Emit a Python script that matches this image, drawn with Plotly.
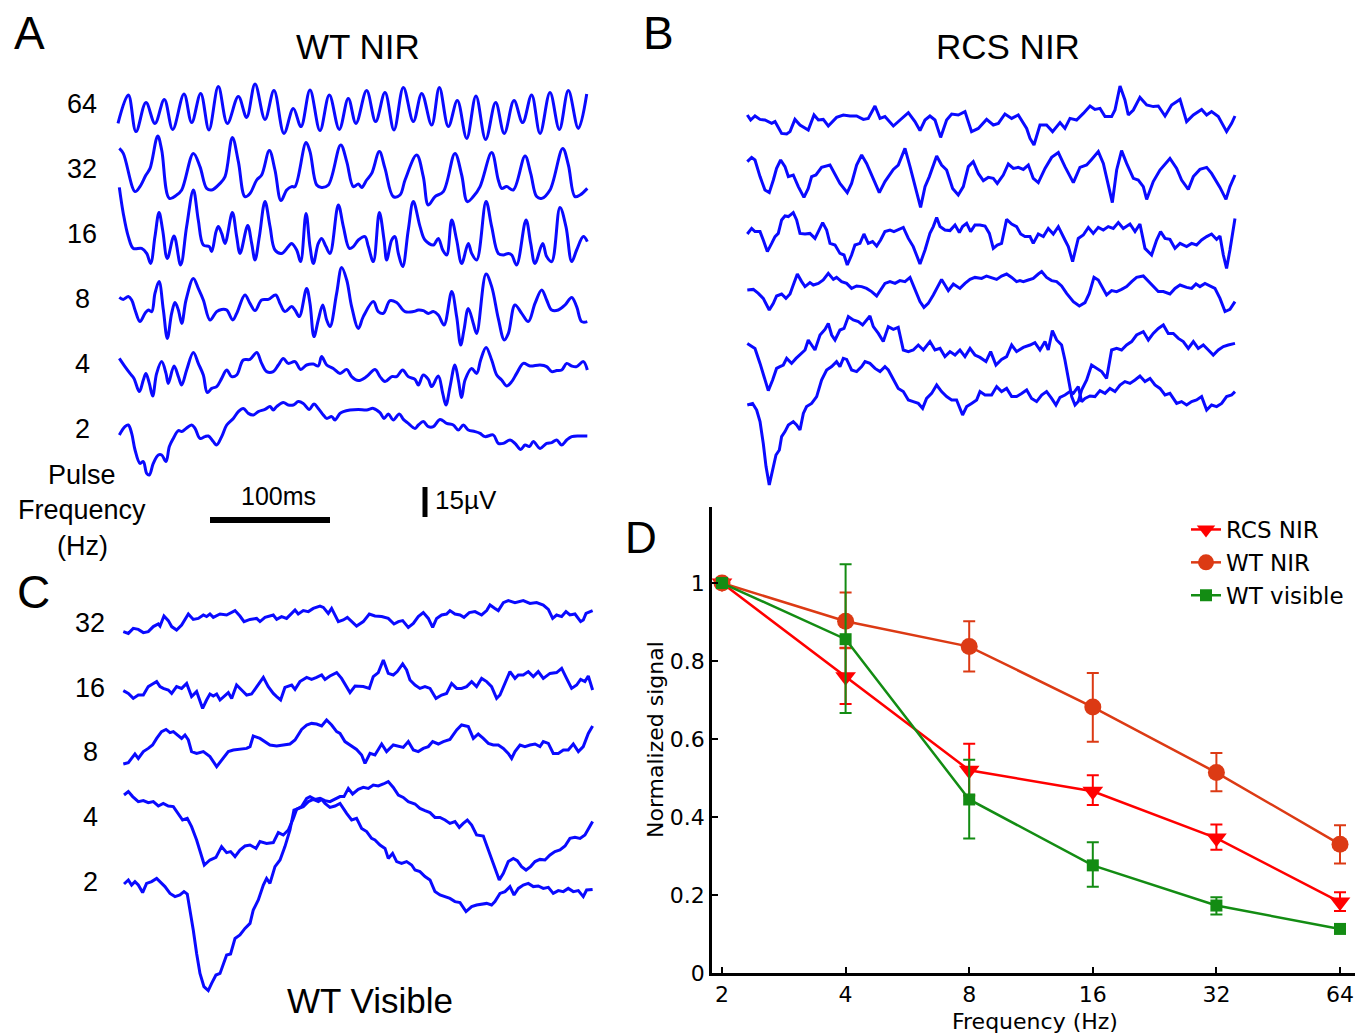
import math
import plotly.graph_objects as go

W, H = 1369, 1034

# ---------------- Panel A: WT NIR, traces as (time ms, signal uV) ----------------
A64 = [(0,-9.7),(8.6,4.5),(15,-13.8),(23.3,0.7),(30.8,-9.7),(38.6,2.3),(45.6,-12.7),(55,5),(61.4,-9.3),(68.9,5.3),
       (75.8,-13),(83.6,8.7),(91.1,-9.7),(100.3,3.7),(107.2,-6.7),(114.2,10),(122.5,-7.7),(130,6.7),(138.3,-14.7),(146.1,-2.2),
       (152.5,-11.3),(160,7),(168.3,-13.3),(176.1,4.5),(184.4,-12.7),(191.9,2.8),(198.3,-9.7),(207.2,6.7),(214.7,-8.8),(222.5,5.7),
       (230,-13),(237.8,8.3),(246.1,-8.8),(253.1,5.3),(261.4,-10.5),(267.8,8.3),(275.3,-11.3),(282.8,1.7),(290.6,-17.2),(298.3,4),
       (306.4,-17.7),(314.7,0.7),(321.9,-14.7),(330,1.7),(337.2,-9.3),(344.7,4.5),(351.7,-14.7),(360,5.7),(367.8,-12.7),(375.3,6.7),
       (383.6,-12.2),(390.6,5)]
A32 = [(1.1,10.3),(4.4,7.8),(14.2,-11.3),(18.3,-8.8),(23.3,-3),(26.7,0.3),(33.1,16.5),(36.4,9.5),(42.8,-14.7),(48.9,-13),
       (53.1,-10.5),(62.8,7.8),(68.3,1.2),(73.9,-9.7),(78.1,-10.5),(85,-7.2),(89.2,-3.8),(95.3,15.8),(100.3,3.7),(105.8,-13.8),
       (110,-12.2),(115.6,-5.5),(119.7,-3),(126.1,9.2),(130.8,-0.5),(135.8,-15.8),(140.6,-10.5),(144.7,-8.8),(147.5,-8.8),(156.7,13.2),
       (160,8.7),(165.6,-8),(169.7,-9.2),(175.3,-8),(185.6,12),(190.6,3.7),(196.1,-8.8),(200.3,-7.5),(203.1,-9.2),(207.2,-5.5),
       (211.4,-2.2),(217.8,8.7),(222.5,0.3),(229.4,-13.8),(235,-13),(239.2,-5.5),(248.9,7),(254.4,-3.8),(258.6,-18),(264.2,-13.8),
       (271.1,-11.3),(280.8,7.8),(286.4,-3),(291.1,-16.3),(296.1,-13.8),(301.7,-8.8),(311.4,8.2),(316.9,-5.5),(319.7,-9.7),(323.9,-8.8),
       (329.4,-10.5),(339.2,6.5),(343.9,-2.2),(348.9,-13.8),(353.1,-14.7),(360,-10.5),(370.6,10.3),(375.3,2),(380.8,-13.8),(385,-13),
       (391.1,-9.7)]
A16 = [(1.1,23.3),(4.4,10.3),(8.6,-1.3),(12.8,-7.2),(19.7,-7.2),(23.9,-9.7),(27.2,-14.7),(30.8,-1.3),(34.2,10.7),(37.2,2),
       (41.1,-12.2),(46.7,-1),(52.2,-15.5),(57.2,3.7),(62.8,22),(66.9,7),(71.1,-5.5),(76.1,-6.3),(78.1,-8.8),(81.7,1.2),
       (83.6,3.7),(86.4,0.3),(89.2,-4.7),(95.3,10.7),(98.9,-1.3),(101.7,-9.7),(108.1,4.2),(111.4,-4.7),(114.2,-13),(117.8,-1.3),
       (122.5,16.2),(126.7,3.7),(130.8,-8),(136.4,-9.7),(141.9,-6.3),(144.7,-4.7),(148.9,-8),(152.2,-13.8),(156.7,10.3),(160,-6.3),
       (162.8,-14.7),(166.9,-4.7),(169.7,-2.2),(173.3,-6.3),(176.7,-9.7),(183.6,14.5),(187.8,3.7),(192.8,-7.2),(196.1,-6.3),(200.3,-3),
       (205.8,-1.3),(208.6,-6.3),(212.8,-13.8),(217.8,10.7),(221.7,-3),(223.9,-13),(228.1,-3),(230.8,-1.3),(233.6,-9.7),(237.2,-16.3),
       (241.9,2),(246.1,16.2),(251.7,3.7),(255.8,-3),(262.8,-5.5),(266.9,-2.2),(270.6,-8),(273.9,-10.5),(278.1,7),(282.2,-3),
       (286.4,-14.7),(291.9,-4.7),(294.7,-9.7),(298.9,-13),(306.7,16.2),(311.4,3.7),(316.9,-9.7),(321.1,-10.5),(325.3,-9.7),(328.1,-10.5),
       (332.2,-15.5),(340,7),(343.9,-4.7),(347.5,-14.7),(353.9,-4.7),(357.2,-11.3),(361.4,-13.8),(368.3,13.3),(373.3,3.7),(378.1,-13.8),
       (382.2,-8),(387.8,-1.3),(391.1,-3.8)]
A8 = [(1.1,0.8),(4.4,-0.2),(8.6,1.2),(11.4,-0.5),(14.2,-5.5),(18.3,-11.3),(22.5,-7.2),(25.3,-5.5),(28.1,-6.3),(30.8,2.8),
      (34.2,8.7),(37.8,-5.5),(41.1,-19.7),(44.7,-7.2),(47.5,-1.8),(50.3,-5.5),(53.1,-12.2),(56.7,-0.5),(62.8,10.3),(66.9,5.3),
      (71.1,-0.5),(76.7,-10.5),(82.2,-6.3),(86.4,-5.2),(90.6,-5.5),(95.6,-10.5),(98.9,-7.2),(105.8,2),(110,-2.2),(114.2,-5.8),
      (119.7,-0.5),(125.3,-0.2),(131.4,2),(135,-2.2),(139.2,-6.3),(144.7,-3.8),(147.5,-5.5),(151.1,-8.8),(157.2,5.3),(160,-2.2),
      (163.3,-18.8),(166.9,-10.5),(170.6,-3),(173.9,-10.5),(176.7,-13.8),(182.2,2.8),(186.4,15.8),(190.6,9.5),(194.7,-3.8),(200.3,-14.7),
      (204.4,-8.8),(212.8,-1.3),(216.9,-6.3),(221.1,-7.2),(226.7,-0.8),(232.2,-1.8),(239.2,-6.3),(246.1,-6.3),(250.3,-5.5),(254.4,-5.8),
      (258.6,-7.2),(262.8,-6.3),(266.9,-8),(271.7,-13),(278.1,3.7),(282.2,-8.8),(285.6,-23),(288.3,-15.5),(291.9,-4.7),(296.1,-12.2),
      (298.9,-17.2),(306.7,12.5),(311.4,6.2),(316.9,-9.7),(321.9,-20.5),(325.3,-17.2),(330.8,-3),(336.4,-7.2),(341.9,-11.3),(347.5,-2.2),
      (353.1,4.5),(357.2,-0.5),(361.4,-5.5),(366.9,-5.5),(372.5,-3),(378.1,0.8),(382.2,-3.8),(386.4,-11.3),(391.1,-11.3)]
A4 = [(1.1,2.8),(5.8,-1.3),(10,-4.7),(13.3,-7.2),(17.8,-13.8),(21.1,-8),(23.3,-4.7),(26.1,-9.7),(28.9,-16),(32.2,-4.7),
      (36.4,1.2),(40,-4.7),(41.9,-9.7),(46.7,-1),(50.3,-6.3),(53.1,-10.5),(57.2,-3),(62.8,5.7),(66.9,0.3),(71.1,-5.5),
      (74.4,-14.3),(78.1,-12.2),(82.2,-11.3),(86.4,-7.2),(90.6,-3),(94.7,-6.3),(98.9,-5.5),(104.4,2),(110,2.3),(115.6,5.7),
      (119.7,0.3),(123.9,-3.8),(129.4,-3.8),(133.6,-0.5),(137.8,2.7),(141.9,0.3),(147.5,1.2),(152.2,-2.7),(157.2,-0.5),(162.8,0),
      (166.9,-1),(169.7,3.7),(173.9,-0.5),(179.4,-2.2),(185,-4.7),(190.6,-2.7),(194.7,-6.3),(200.3,-8.3),(207.2,-6.3),(214.2,-2.7),
      (218.3,-6.3),(222.5,-8.8),(228.1,-6.3),(232.2,-6.3),(237.2,-3),(241.9,-6.3),(247.5,-7.7),(250.3,-10.5),(254.4,-5.5),(258.6,-7.7),
      (261.4,-11.3),(266.9,-6),(270.6,-14.7),(273.3,-20.5),(276.7,-11.3),(280.8,-0.5),(283.6,-8),(286.4,-16.7),(289.2,-8),(294.7,-2.2),
      (298.9,-4.7),(302.2,2),(306.7,8.3),(311.4,2),(315.6,-5.5),(319.7,-8),(323.9,-11),(328.1,-8.8),(332.2,-4.7),(337.8,0.3),
      (343.3,-1),(351.7,-0.5),(357.2,-1.3),(361.4,-3.8),(365.6,-3.3),(369.7,-3),(373.9,0.3),(378.1,-1),(382.2,-1.3),(387.8,1.2),
      (391.1,-3)]
A2 = [(1.1,-3),(5.8,1.2),(8.6,2),(11.4,-2.2),(14.2,-10.5),(18.3,-17.2),(21.1,-16.3),(23.9,-22.2),(26.1,-23),(29.4,-17.2),
      (33.6,-13),(36.4,-13),(40,-16.3),(42.8,-8.8),(46.1,-4.7),(50.3,-0.8),(53.1,-1.3),(56.7,0.3),(61.4,2),(64.2,0.3),
      (68.3,-4.7),(72.5,-3.8),(75.3,-3.5),(79.4,-6.3),(82.2,-8),(86.4,-3.8),(90.6,2),(96.1,5.3),(100.3,8.7),(104.4,10.3),
      (108.6,7.8),(112.8,7),(116.9,8.7),(122.5,9.8),(126.7,11.2),(129.4,9.5),(132.2,11.2),(137.8,13.2),(141.9,12),(146.1,12),
      (150.3,13.7),(154.4,12.8),(159.4,9.8),(163.3,12.5),(166.9,10.3),(171.1,7),(173.9,5.3),(178.1,6.2),(180.8,4.5),(185,7.8),
      (187.8,8.7),(193.3,9.5),(200.3,9.8),(207.2,9.5),(212.8,10.3),(218.3,8.2),(221.7,5.3),(225.3,7.5),(229.4,4.5),(234.4,7.5),
      (237.8,4.8),(241.9,2.8),(247.5,0.3),(250.3,2),(254.4,3.7),(258.6,1.2),(262.8,1.2),(268.3,4.8),(273.9,2.8),(279.4,2),
      (283.6,-0.5),(287.8,2),(291.9,-0.5),(297.5,-1.3),(301.7,-2.2),(305.8,-3.8),(312.8,-3),(316.9,-7.2),(321.1,-7.2),(326.7,-5.5),
      (330.8,-7.2),(335.6,-10.2),(339.2,-8),(342.8,-8.8),(346.1,-6.3),(351.7,-9.7),(357.2,-7.2),(361.4,-6.8),(365.6,-5.5),(369.7,-8),
      (373.9,-5.5),(378.1,-3.8),(385,-3.5),(391.1,-3.5)]

# ---------------- Panel B: RCS NIR ----------------
B64 = [(0,1.5),(2.8,-1),(6.4,1),(10.6,-0.7),(14.7,-1),(20.3,-2.7),(23.1,-1.8),(28.6,-7.7),(32.8,-8),(35.6,-6.8),
       (39.7,-0.7),(43.9,-3.5),(50.8,-6),(55.6,1.5),(59.2,-1),(63.3,-0.7),(67.5,-4),(74.4,0.3),(80,1.5),(85.6,1),
       (91.1,1),(96.7,-0.7),(100.8,-0.2),(106.4,6),(110.6,-0.2),(114.7,0.7),(121.7,-4),(127.2,-1),(134.2,2.7),(139.7,-1.8),
       (143.9,-6.3),(148.1,-1),(152.2,1),(156.4,-1),(161.1,-9.7),(166.1,-1),(170.3,2),(175.8,1.5),(181.4,3.2),(186.9,-6.8),
       (192.5,-5.2),(199.4,-0.7),(205,-3.5),(209.2,-2.7),(214.7,2),(220.3,-0.2),(225.8,1.5),(232.8,-5.2),(235.6,-10.2),(238.9,-13.5),
       (243.9,-3.5),(249.4,-3.5),(254.4,-6.8),(260.6,-2.3),(264.7,-5.2),(268.9,-0.2),(274.4,-1),(280,2.3),(285.6,6),(289.7,4.3),
       (293.9,4.8),(298.1,0.7),(303.6,0.7),(306.4,4),(310.6,16),(314.7,9),(317.5,1.5),(321.7,4),(327.2,10.3),(332.8,6.5),
       (338.3,5.7),(342.5,6),(348.1,1),(353.6,6.5),(360.6,9.3),(366.1,-1.8),(371.7,1.5),(378.6,4.3),(382.8,1.5),(386.9,3.2),
       (392.5,0.7),(399.4,-6.8),(403.6,-2.7),(406.4,1)]
B32 = [(0,7.2),(3.6,9.3),(6.4,8),(10.6,-0.3),(14.7,-7),(18.3,-8.3),(21.7,-2),(24.4,3.8),(27.8,8),(31.4,4.7),
       (34.2,-0.3),(38.3,0.5),(42.5,-5.3),(47.2,-10.7),(50.8,-6.2),(53.6,-0.3),(57.2,0.5),(61.9,4.3),(68.9,5.5),(71.7,2.2),
       (77.2,-3.7),(83.3,-8.3),(86.9,-3.7),(91.1,5.5),(95.3,10.5),(99.4,6.3),(105,-1.2),(110,-8.3),(114.7,-2.8),(121.7,3.3),
       (125.8,5.5),(131.4,13.8),(135.6,4.7),(141.1,-8.7),(144.4,-15.7),(148.1,-5.3),(151.7,-0.3),(157.8,10),(161.9,5.5),(166.1,3),
       (171.1,-6.2),(175.8,-9.5),(180,-5.3),(184.2,4.7),(188.3,7.2),(192.5,1.3),(196.7,-2.3),(200.8,-0.7),(205,-1.2),(208.3,-3.7),
       (213.3,0.5),(217.5,6),(221.7,3.8),(225.8,4.3),(230,3.3),(234.2,5.5),(238.3,-1.2),(242.5,-3.3),(248.1,3.8),(253.6,9.3),
       (259.2,11.7),(264.7,4.7),(271.7,-3.3),(277.2,4.3),(282.8,5.5),(286.9,8.3),(292.5,12.2),(296.7,6.3),(300.8,-5.3),(304.2,-13.3),
       (307.8,3),(311.9,12.7),(316.1,6.3),(321.7,-1.2),(325.8,-2),(330,-5.3),(332.8,-11.7),(338.3,-2.8),(343.9,3),(352.2,8.8),
       (357.8,3.8),(361.9,-2),(367.5,-6.7),(371.7,-0.3),(377.2,3.3),(382.8,4.3),(386.9,1.3),(393.9,-5.7),(398.9,-11.7),(402.2,-5.3),
       (406.4,0.5)]
B16 = [(0,0),(3.6,2.8),(6.4,1.2),(10.6,1.2),(13.3,-3),(16.7,-8.8),(20.3,-4.7),(23.1,-1.3),(25.8,0.3),(28.6,7),
       (31.4,9),(34.2,8.7),(38.3,10.7),(41.1,7),(43.9,0.3),(48.1,0),(52.2,0.3),(56.4,-2.2),(59.2,1.2),(62.8,5.7),
       (66.1,2),(68.9,-4.7),(73.1,-5.5),(77.2,-9.7),(80.6,-10.5),(83.3,-15.5),(86.9,-10.5),(89.7,-5.5),(93.9,-4.7),(97.2,0),
       (100.8,-4.7),(104.4,-3.8),(107.8,-6),(111.1,-3),(114.7,1.2),(118.9,2),(122.2,1.2),(125.8,2),(130,3.3),(134.2,-2.2),
       (138.3,-6.3),(143.9,-15),(148.1,-8),(152.2,0.3),(155,3.7),(157.8,8.3),(160.6,3.7),(164.7,2),(168.9,1.7),(173.1,4.5),
       (176.7,0.7),(179.4,3.7),(182.8,5.3),(186.1,1.2),(189.7,4.5),(193.9,4.5),(198.1,4),(201.7,0.3),(205,-7.2),(208.3,-5.5),
       (211.9,-4.7),(216.1,7.3),(220.3,5),(224.4,3.7),(227.8,0),(231.4,-1.3),(235.6,-1.3),(238.3,-4.7),(242.5,0),(246.7,-1.3),
       (250.8,2.8),(255,0),(259.2,3.7),(264.7,-3),(267.5,-6.3),(271.1,-13.8),(275.8,-2.2),(280,-0.5),(284.2,3.3),(288.3,0.3),
       (292.5,3.3),(296.7,2),(300.8,3.7),(305,2.8),(309.2,5.7),(313.3,2.8),(318.9,5),(323.1,1.2),(327.2,5),(331.4,-7.2),
       (336.9,-10.5),(341.1,-3),(344.4,1.2),(348.1,-2.2),(352.2,-2.7),(356.4,-7.2),(360.6,-4.7),(366.1,-6.3),(370.3,-4.7),(374.4,-5.5),
       (378.6,-3),(382.8,-1.3),(386.9,0),(391.1,-2.7),(393.9,-1),(396.7,-10.5),(399.4,-17.2),(402.2,-8),(406.4,7.8)]
B8 = [(0,1),(5,1.3),(9.2,-0.7),(13.3,-3.2),(18.3,-9),(21.7,-5.7),(24.4,-2),(28.6,-1),(32.2,-3.2),(35.6,-1),
      (38.3,3.5),(41.7,9),(45.3,5.2),(48.1,2.7),(52.2,4.7),(55,3.5),(59.2,4.3),(63.3,6),(67.5,9.3),(71.7,6.3),
      (74.4,7.3),(78.6,5.2),(82.8,4.3),(86.9,1.8),(91.1,3),(95.3,2.7),(99.4,1.8),(103.6,0.2),(107.8,-2),(111.9,1.8),
      (114.7,4.3),(118.9,5.2),(123.1,4.3),(127.2,5.7),(131.4,5.2),(135.6,7.3),(139.7,1),(143.9,-4.8),(147.2,-7.7),(150.8,-5.7),
      (155,-1.5),(159.2,3.5),(161.9,6.3),(164.7,3.5),(167.5,0.7),(171.7,4),(177.2,1.8),(181.4,4.3),(185.6,6.3),(189.7,7.3),
      (195.3,6.8),(199.4,8),(203.6,7.3),(207.8,6.3),(211.9,8),(216.1,9),(220.3,7.3),(224.4,5.2),(227.2,5.7),(230,5.2),
      (234.2,6),(238.3,6.8),(242.5,9),(245.3,10.2),(249.4,7.3),(253.6,5.7),(257.8,5.2),(261.9,3),(266.1,-0.7),(271.7,-4.8),
      (276.7,-7),(281.4,-5.3),(285,-0.7),(288.9,7.3),(292.5,6),(295.3,2.7),(299.4,-1.5),(303.6,0.7),(307.8,0.2),(311.9,1.3),
      (316.1,2.7),(320.3,5.2),(324.4,7.3),(330,8),(334.2,5.2),(338.3,2.7),(342.5,0.2),(346.7,0.2),(352.2,-1),(356.4,1.8),
      (360.6,3.5),(366.1,2.3),(370.3,1.8),(373.9,4),(377.2,2.7),(381.4,4.3),(385.6,3),(389.7,1.8),(393.9,-3.2),(398.1,-9.8),
      (402.2,-8.7),(406.4,-4.8)]
B4 = [(0,3.3),(3.6,1.7),(6.4,0.8),(10.6,-6.7),(14.7,-15),(17.5,-20.3),(21.1,-15),(24.4,-9.2),(27.2,-8.3),(30,-7.5),
      (32.8,-4.2),(36.9,-6.7),(40.6,-4.2),(43.9,-2.5),(48.1,0),(50.8,5),(53.6,2.5),(56.4,0),(60.6,7.5),(64.7,10.3),
      (67.5,13.3),(70.3,7.5),(73.1,5),(77.2,10),(80.6,10.8),(84.2,16.7),(88.3,15),(92.5,14.2),(96.1,12.5),(99.4,15),
      (102.2,17),(105,11.7),(109.2,8.3),(113.3,4.2),(117.5,11.7),(121.7,10.3),(125.8,11.3),(130,0),(134.2,-0.8),(138.3,0),
      (142.5,2.5),(146.7,0),(152.2,4.2),(156.4,0),(160.6,0.8),(164.7,-3.3),(168.9,-0.8),(173.1,-2.5),(177.2,0),(181.4,-3.3),
      (185.6,0.8),(189.7,-2.5),(193.9,-3.7),(198.9,-5.8),(202.8,-0.8),(207.2,-7.5),(211.9,-4.7),(216.1,-3.3),(220.3,2.5),(224.4,-0.8),
      (230,1.3),(235.6,2.5),(239.7,3.7),(243.9,0),(248.1,4.2),(250.8,0),(254.2,9.7),(257.8,5),(261.9,2.5),(264.7,-5),
      (267.5,-13.3),(270.3,-23.3),(273.1,-27.5),(275.8,-25.8),(278.6,-20),(282.8,-15),(286.9,-7.5),(291.1,-9.2),(295.3,-10.8),(299.4,-14.2),
      (303.6,0),(307.8,0.8),(311.9,0),(316.1,2.5),(320.3,4.2),(324.4,7.5),(330,9.2),(334.2,5),(338.3,8.3),(342.5,10.8),
      (346.7,12.5),(350.8,8.3),(355,8.3),(359.2,5.8),(363.3,4.2),(367.5,0.8),(371.7,4.2),(375.8,0.8),(380,2.5),(384.2,0),
      (388.3,-2.5),(392.5,0),(396.7,1.7),(400.8,2.5),(406.4,3.3)]
B2 = [(0,1.5),(4.4,2.3),(7.8,-1),(10.6,-6.8),(13.3,-17.7),(15.6,-29.3),(18.3,-38.5),(21.1,-31),(23.9,-23.5),(26.7,-21),
      (28.6,-14.3),(31.4,-11.8),(34.2,-8.5),(38.3,-6.8),(41.1,-8.5),(43.9,-11),(46.7,-2.7),(49.4,0.7),(53.6,2.3),(57.8,5.7),
      (61.9,14),(66.1,19),(70.3,20.7),(74.4,23.2),(77.2,20.7),(80,24.8),(82.8,24.3),(86.9,19),(91.1,18.2),(95.3,20.7),
      (98.1,23.2),(102.2,22.3),(106.4,19.8),(110.6,18.2),(114.7,20.7),(117.5,19),(121.7,14),(125.8,9.8),(130,8.2),(134.2,4),
      (138.3,3.2),(142.5,2.3),(146.1,-0.2),(149.4,4.8),(153.6,7.3),(157.8,11.5),(161.9,8.2),(166.1,5.7),(170.3,4),(174.4,4),
      (179.4,-3.5),(182.8,0.7),(186.9,2.3),(191.1,4),(193.9,8.2),(198.1,6.5),(203.6,6.5),(207.8,10.7),(211.9,8.2),(216.1,9.8),
      (220.3,5.7),(224.4,5.7),(228.6,7.3),(232.8,9),(236.9,4.8),(241.1,3.2),(245.3,6.5),(249.4,8.2),(253.6,4.8),(257.2,1.5),
      (260.6,5.3),(264.7,6.5),(268.9,8.2),(271.7,7.3),(275.8,10.7),(278.6,3.2),(281.4,4.8),(285.6,6),(289.7,5.7),(293.9,8.7),
      (298.1,7.3),(302.2,9.8),(306.4,8.2),(310.6,11.5),(314.7,13.2),(318.9,12.3),(323.1,14),(327.2,16),(331.4,13.2),(335.6,14.8),
      (339.7,11.5),(343.9,9.8),(348.1,6.5),(352.2,7.3),(357.8,2.3),(361.9,3.2),(366.1,1.5),(370.3,3.2),(374.4,4),(378.6,5.7),
      (382.8,-1),(386.9,1.5),(391.1,0.7),(395.3,2.3),(399.4,5.7),(403.6,6.5),(406.4,8.2)]

# ---------------- Panel C: WT Visible ----------------
C32 = [(0,-4.3),(4.2,-5.2),(8.3,-2.7),(12.5,-3.2),(16.7,-4.8),(20.8,-4.3),(25,-1.8),(29.2,-0.5),(30.6,-1.5),(33.9,3.5),
       (37.5,1.2),(40.3,-1.8),(44.4,-3.5),(48.6,-1),(54.2,4.5),(58.3,1.8),(62.5,2.3),(66.7,4),(69.4,3.2),(72.2,4.5),
       (75,2.8),(80.6,4.5),(86.1,4),(93.1,6.2),(97.2,3.5),(100.6,0.7),(105.6,1.8),(111.1,2.3),(113.9,0.7),(118.1,2.8),
       (125,4),(127.8,1.8),(131.9,3.2),(136.1,2.3),(140.3,4.8),(143.1,6.5),(145.8,4.5),(150,6.2),(154.2,5.7),(158.3,7.3),
       (163.9,8.5),(166.7,7.8),(170.8,4.8),(173.6,7.3),(179.2,0.7),(183.3,1.5),(186.7,2.8),(190.3,0.7),(194.4,-1.5),(200,0.7),
       (205,4.5),(209.7,3.5),(215.3,3.2),(220.8,2.3),(225.6,-0.5),(229.2,0.7),(232.8,1.2),(237.5,-2.2),(241.7,-0.2),(245.8,3.2),
       (250,5.2),(254.2,2.3),(257.8,-2.2),(261.1,2.3),(265.3,4),(269.4,4.5),(272.2,6.2),(276.4,4.5),(280.6,4),(283.9,2.8),
       (288.3,5.2),(293.1,5.7),(298.6,4),(302.8,6.2),(305.6,9),(309.7,7.3),(312.5,6.2),(316.7,10.2),(320.8,11.2),(326.4,10.2),
       (333.3,11.2),(338.9,9.8),(344.4,10.2),(350,9),(354.2,6.8),(357.8,2.3),(361.1,4),(365.3,3.2),(368.9,5.7),(372.2,4),
       (376.4,4.5),(381.1,0.7),(383.3,1.5),(385.6,4.8),(391.1,6.2)]
C16 = [(0,-1.3),(4.2,-2.7),(8.3,-5.2),(12.5,-3.5),(16.7,-3.5),(20.8,0.7),(24.4,2),(27.8,3.2),(30.6,0.7),(33.3,-0.2),
       (37.5,-1),(40.3,-2.7),(44.4,0.7),(48.6,-0.2),(52.8,2.3),(56.9,-4.3),(61.1,-1.8),(66.1,-10.2),(69.4,-6),(72.2,-3),
       (75,-4),(77.8,-3),(80.6,-6),(84.7,-3.5),(87.5,-2.3),(90.3,-5.2),(94.4,1.5),(98.6,-1),(102.8,-3.5),(106.9,-3),
       (111.1,0.7),(116.7,5.3),(120.8,0.7),(125,-2.7),(127.8,-4.3),(131.1,-6),(134.7,0.3),(140.3,1.5),(143.1,-0.7),(147.2,3.2),
       (152.8,5.3),(156.9,4.3),(161.1,5.3),(165.3,6.5),(168.1,4.3),(172.2,6),(177.8,7.7),(181.9,4.8),(188.9,-2.3),(193.1,1),
       (200,0.7),(205,-0.2),(208.3,5.7),(212.5,7.7),(216.7,14),(220.8,7.3),(225,6.5),(228.3,8.2),(232.8,12),(236.1,9),
       (238.9,4),(243.1,1.5),(247.2,-0.2),(251.4,0.7),(255.6,-0.2),(260.6,-5.2),(265.3,-3.5),(269.4,-2.7),(273.6,2.3),(277.8,-0.2),
       (281.9,-0.2),(286.1,0.7),(290.3,3.2),(294.4,0.7),(298.6,4.8),(302.8,3.2),(306.9,0.7),(311.1,-5.2),(313.9,-3.5),(318.1,2.3),
       (322.2,8.2),(326.4,4.8),(329.2,6.5),(333.3,6.5),(337.5,8.2),(341.7,5.7),(345.8,8.2),(350,4.8),(355.6,7.3),(361.1,7.7),
       (365.3,9.8),(369.4,4.8),(373.6,-0.2),(377.8,1.5),(381.1,4.3),(384.7,3.2),(387.5,6),(391.1,-1)]
C8 = [(0,-6),(4.2,-5.3),(6.9,-3.2),(9.7,-1),(12.5,-3.2),(16.7,0.2),(20.8,1.8),(24.4,3.5),(27.8,6.8),(31.9,10.2),
      (35.6,11.3),(38.9,9.7),(41.7,10.2),(44.4,9),(48.6,6.8),(51.4,8.5),(54.2,6),(56.9,0.2),(61.1,-0.7),(66.7,0.2),
      (72.2,-2.3),(77.8,-7.3),(81.9,-4),(87.5,0.2),(91.7,1),(97.2,1.3),(102.8,1.8),(105.6,2.7),(108.3,8),(113.9,6.8),
      (118.1,5.2),(122.2,3.5),(127.8,3),(133.3,3.5),(138.9,4),(143.1,6),(148.6,11.3),(152.8,13.5),(156.9,14.3),(161.1,14),
      (165.3,13),(169.4,16),(173.6,13.5),(177.8,10.2),(180.6,9.3),(184.7,5.2),(188.9,3.5),(194.4,1.3),(198.6,-1.5),(201.4,-5.7),
      (205.6,-0.7),(209.7,-1.5),(215.3,4),(219.4,0.2),(225,3.5),(229.2,2.7),(233.3,2.3),(237.5,5.2),(241.7,1),(245.8,0.2),
      (250,1.8),(254.2,2.7),(257.8,5.2),(262.5,4),(266.7,5.2),(272.2,6.3),(277.8,11),(281.9,13.5),(287.5,12.7),(291.7,6.8),
      (295.8,9),(300,6.8),(304.2,4.3),(308.3,3.5),(312.5,3.5),(316.7,1.8),(320.8,-0.7),(323.6,-3.2),(326.4,0.2),(330.6,3.5),
      (334.7,2.7),(338.9,3.5),(343.1,4),(347.2,2.7),(350,5.2),(354.2,4.3),(358.3,-0.7),(362.5,-0.7),(366.7,1),(370.8,1),
      (375,4),(379.2,0.2),(383.3,2.7),(387.5,9.3),(391.1,13)]
C4 = [(0.6,11),(4.2,12.7),(7.8,10.2),(12.5,7.7),(16.7,8.2),(20.8,7.2),(25,7.7),(29.2,5.5),(33.3,6.8),(37.5,5.5),
      (41.7,5.2),(45.8,1.8),(49.4,-1.5),(53.3,-0.7),(56.9,-4.8),(61.1,-11.5),(64.4,-18.2),(67.5,-24),(72.2,-21.5),(77.2,-20.2),
      (81.9,-14.8),(86.1,-17.8),(89.4,-17.3),(93.1,-19.8),(97.2,-16.5),(101.4,-14.5),(105.6,-14),(110.6,-15.7),(113.9,-12.3),(119.4,-13.2),
      (125,-12.8),(129.2,-7.8),(133.3,-9),(137.5,-6.5),(141.7,-0.7),(144.4,3.8),(148.6,5.2),(152.8,9.3),(155.6,10.2),(159.7,8.8),
      (163.9,9.3),(168.1,8.2),(172.2,7.7),(176.4,8.8),(180.6,10.2),(183.9,10.2),(187.5,14.3),(191.1,11.5),(195.8,13.8),(200,14.8),
      (204.2,14.3),(208.3,16),(212.5,15.5),(216.7,16.5),(220.8,17.7),(225,14.8),(229.2,11),(233.3,9.8),(237.5,7.7),(243.1,6.5),
      (247.2,4.3),(251.4,3.2),(255.6,2.2),(259.7,-0.2),(263.9,-0.2),(268.1,-1.5),(272.2,-3.2),(276.4,-2.3),(280,-5.2),(283.3,-3.2),
      (286.7,-1.5),(290.3,-4),(294.4,-9),(300,-9.5),(304.2,-16.5),(308.3,-23.2),(313.3,-31.5),(316.7,-28.2),(320.8,-22.3),(325,-20.7),
      (328.3,-21.8),(331.9,-24.8),(335.6,-26.5),(339.4,-24.8),(343.1,-22.3),(347.2,-21.2),(351.4,-21.5),(355.6,-19),(359.7,-17.3),(363.9,-16.5),
      (368.1,-14.5),(372.2,-10.7),(376.4,-10.2),(380.6,-10.7),(384.7,-9),(391.1,-2.3)]
C2 = [(0.6,-1),(4.2,1),(6.9,-1.5),(9.7,0.2),(12.5,-1.5),(16.1,-5.3),(19.4,-0.7),(23.6,0.2),(27.8,1.8),(31.9,-0.7),
      (34.7,-2.3),(38.9,-5.7),(43.1,-7.3),(47.2,-6.5),(50.6,-4.8),(53.3,-6),(55.6,-14),(58.3,-24),(61.1,-35.7),(63.9,-45.7),
      (67.2,-52.3),(70.8,-54.3),(73.6,-50.7),(77.2,-46.5),(80.6,-45.7),(83.3,-40.7),(86.1,-36.5),(89.4,-36),(93.1,-28.2),(97.2,-26.5),
      (101.4,-23.2),(105.6,-20.7),(108.3,-14),(112.5,-9),(116.7,-1.5),(119.4,1.8),(122.2,-0.7),(126.4,7.7),(130.6,11),(134.7,17.7),
      (138.9,26),(142.2,36),(145.8,36.8),(150,37.7),(154.2,40.2),(158.3,41.3),(162.5,40.2),(165.3,41.3),(168.1,39.3),(172.2,37.3),
      (176.4,38),(180.6,39.3),(186.1,34.3),(190.3,31),(194.4,31.8),(198.6,26.8),(202.8,25.2),(206.9,21.8),(209.7,21),(213.9,18.5),
      (218.1,16.8),(220.8,11.8),(224.4,14.3),(227.8,10.2),(231.9,9.3),(236.1,10.2),(240.3,8.5),(243.1,6),(247.2,5.2),(251.4,2.7),
      (255.6,1),(259.7,-4.8),(263.9,-6.5),(268.1,-7.3),(272.2,-8.2),(276.4,-9.8),(280.6,-10.3),(285.6,-14.8),(290.3,-12.3),(294.4,-11.5),
      (298.6,-11),(302.8,-10.7),(306.9,-11.5),(309.7,-9.8),(313.9,-5.7),(318.1,-4.8),(322.2,-2.3),(325.6,-6.5),(329.2,-3.2),(333.3,-1.5),
      (337.5,-0.7),(341.7,-2.3),(345.8,-2),(350,-3.2),(354.2,-2.7),(358.3,-5.7),(362.5,-4.3),(366.7,-4.8),(370.8,-3.2),(375,-4.8),
      (379.2,-4.3),(383.3,-7.3),(386.1,-4),(391.1,-3.7)]

A_labels = ["64", "32", "16", "8", "4", "2"]
C_labels = ["32", "16", "8", "4", "2"]

# ---------------- Panel D: normalized signal vs pulse frequency ----------------
freq = [2, 4, 8, 16, 32, 64]
freq_labels = ["2", "4", "8", "16", "32", "64"]
rcs_nir = [1.0, 0.760, 0.520, 0.466, 0.346, 0.182]
rcs_nir_up = [0.0, 0.074, 0.068, 0.041, 0.035, 0.025]
rcs_nir_dn = [0.0, 0.070, 0.065, 0.035, 0.030, 0.023]
wt_nir = [1.0, 0.902, 0.837, 0.682, 0.514, 0.330]
wt_nir_up = [0.0, 0.074, 0.065, 0.087, 0.050, 0.049]
wt_nir_dn = [0.0, 0.069, 0.064, 0.089, 0.048, 0.049]
wt_vis = [1.0, 0.856, 0.445, 0.276, 0.173, 0.113]
wt_vis_up = [0.0, 0.192, 0.102, 0.059, 0.021, 0.005]
wt_vis_dn = [0.0, 0.189, 0.100, 0.055, 0.023, 0.005]

# ---------------- styling / layout ----------------
BLUE = "#0a0aff"
RED = "#ff0000"
ORANGE = "#dc3a14"
GREEN = "#138c13"
SANS = "Liberation Sans, Arial, sans-serif"
DSANS = "DejaVu Sans, sans-serif"
PX_PER_MS = 1.2
PX_PER_UV = 2.0

fig = go.Figure()


def dom_x(p0, p1):
    return [p0 / W, p1 / W]


def dom_y(p0, p1):
    return [1 - p1 / H, 1 - p0 / H]


def trace_panel(n, rect, origin_x, row_px, rows, shape):
    x0, y0, x1, y1 = rect
    base = row_px[0]
    ax = "" if n == 1 else str(n)
    fig.update_layout(**{
        "xaxis" + ax: dict(domain=dom_x(x0, x1), range=[(x0 - origin_x) / PX_PER_MS, (x1 - origin_x) / PX_PER_MS],
                           visible=False, anchor="y" + ax, automargin=False),
        "yaxis" + ax: dict(domain=dom_y(y0, y1), range=[(base - y1) / PX_PER_UV, (base - y0) / PX_PER_UV],
                           visible=False, anchor="x" + ax, automargin=False),
    })
    for pts, rp in zip(rows, row_px):
        off = (base - rp) / PX_PER_UV
        fig.add_trace(go.Scatter(
            x=[p[0] for p in pts], y=[p[1] + off for p in pts], mode="lines",
            line=dict(color=BLUE, width=3, shape=shape, smoothing=1.0),
            xaxis="x" + ax, yaxis="y" + ax, showlegend=False, hoverinfo="skip"))
    return origin_x, base


A_rows_px = [104, 169, 234, 299, 364, 429]
B_rows_px = [118, 176, 234, 292, 350, 408]
C_rows_px = [623, 688, 752, 817, 882]

A_org, A_base = trace_panel(1, (106, 70, 600, 540), 118, A_rows_px, [A64, A32, A16, A8, A4, A2], "spline")
trace_panel(2, (735, 70, 1250, 500), 747.3, B_rows_px, [B64, B32, B16, B8, B4, B2], "linear")
trace_panel(3, (111, 585, 605, 1000), 123.3, C_rows_px, [C32, C16, C8, C4, C2], "linear")

# scale bars (in panel A data units: 100 ms, 15 uV)
bar_t0 = (210 - A_org) / PX_PER_MS
bar_v = (A_base - 520) / PX_PER_UV
fig.add_shape(type="line", xref="x", yref="y", x0=bar_t0, x1=bar_t0 + 100, y0=bar_v, y1=bar_v,
              line=dict(color="black", width=6))
vbar_t = (425 - A_org) / PX_PER_MS
vbar_v0 = (A_base - 517) / PX_PER_UV
fig.add_shape(type="line", xref="x", yref="y", x0=vbar_t, x1=vbar_t, y0=vbar_v0, y1=vbar_v0 + 15,
              line=dict(color="black", width=5))

# panel D
series = [
    ("RCS NIR", rcs_nir, rcs_nir_up, rcs_nir_dn, RED, "triangle-down", 18),
    ("WT NIR", wt_nir, wt_nir_up, wt_nir_dn, ORANGE, "circle", 17),
    ("WT visible", wt_vis, wt_vis_up, wt_vis_dn, GREEN, "square", 12),
]
for name, ys, up, dn, col, sym, sz in series:
    fig.add_trace(go.Scatter(
        x=freq, y=ys, name=name, mode="lines+markers",
        line=dict(color=col, width=2.5),
        marker=dict(color=col, symbol=sym, size=sz, line=dict(width=0)),
        error_y=dict(type="data", array=up, arrayminus=dn, color=col, thickness=2, width=6, symmetric=False),
        xaxis="x4", yaxis="y4", hoverinfo="skip"))

oct_px = 123.6
lpp = math.log10(2) / oct_px
fig.update_layout(
    xaxis4=dict(domain=dom_x(712, 1355), type="log",
                range=[math.log10(2) - 10 * lpp, math.log10(64) + 15 * lpp],
                tickvals=freq, ticktext=freq_labels, ticks="inside", ticklen=6, tickwidth=2, tickcolor="black",
                showline=True, linecolor="black", linewidth=2.5, showgrid=False, zeroline=False,
                tickfont=dict(family=DSANS, size=22, color="black"), anchor="y4", automargin=False),
    yaxis4=dict(domain=dom_y(507, 973), range=[0, 1.195],
                tickvals=[0, 0.2, 0.4, 0.6, 0.8, 1], ticktext=["0", "0.2", "0.4", "0.6", "0.8", "1"],
                ticks="inside", ticklen=6, tickwidth=2, tickcolor="black",
                showline=True, linecolor="black", linewidth=2.5, showgrid=False, zeroline=False,
                tickfont=dict(family=DSANS, size=22, color="black"), anchor="x4", automargin=False),
    legend=dict(x=1186 / W, y=1 - 508 / H, xanchor="left", yanchor="top",
                font=dict(family=DSANS, size=23, color="black"), bgcolor="rgba(0,0,0,0)",
                tracegroupgap=0, itemwidth=30),
)

anns = []


def txt(text, px, py, size, family=SANS, xanchor="center", angle=0):
    anns.append(dict(text=text, x=px / W, y=1 - py / H, xref="paper", yref="paper", showarrow=False,
                     xanchor=xanchor, yanchor="middle", textangle=angle,
                     font=dict(family=family, size=size, color="black")))


txt("A", 29, 33, 46)
txt("B", 658, 33, 46)
txt("C", 33, 592, 46)
txt("D", 641, 537, 44)
txt("WT NIR", 358, 47, 35)
txt("RCS NIR", 1008, 47, 35)
txt("WT Visible", 370, 1000, 35)
for lab, py in zip(A_labels, A_rows_px):
    txt(lab, 82, py, 27)
for lab, py in zip(C_labels, C_rows_px):
    txt(lab, 90, py, 27)
txt("Pulse", 82, 475, 27)
txt("Frequency", 82, 510, 27)
txt("(Hz)", 82, 546, 27)
txt("100ms", 278, 496, 25)
txt("15µV", 433, 500, 26, xanchor="left")
txt("Normalized signal", 655, 740, 22, family=DSANS, angle=-90)
txt("Frequency (Hz)", 1035, 1021, 22, family=DSANS)

fig.update_layout(
    width=W, height=H, margin=dict(l=0, r=0, t=0, b=0, pad=0, autoexpand=False),
    paper_bgcolor="white", plot_bgcolor="white",
    annotations=anns, showlegend=True,
)

fig.write_html(
    "out.html",
    config={"displayModeBar": False},
    post_script=(
        "document.documentElement.style.overflow='hidden';"
        "document.body.style.margin='0px';document.body.style.overflow='hidden';"
        "var gd=document.getElementById('{plot_id}');"
        "gd.style.position='fixed';gd.style.left='0px';gd.style.top='0px';"
    ),
)
